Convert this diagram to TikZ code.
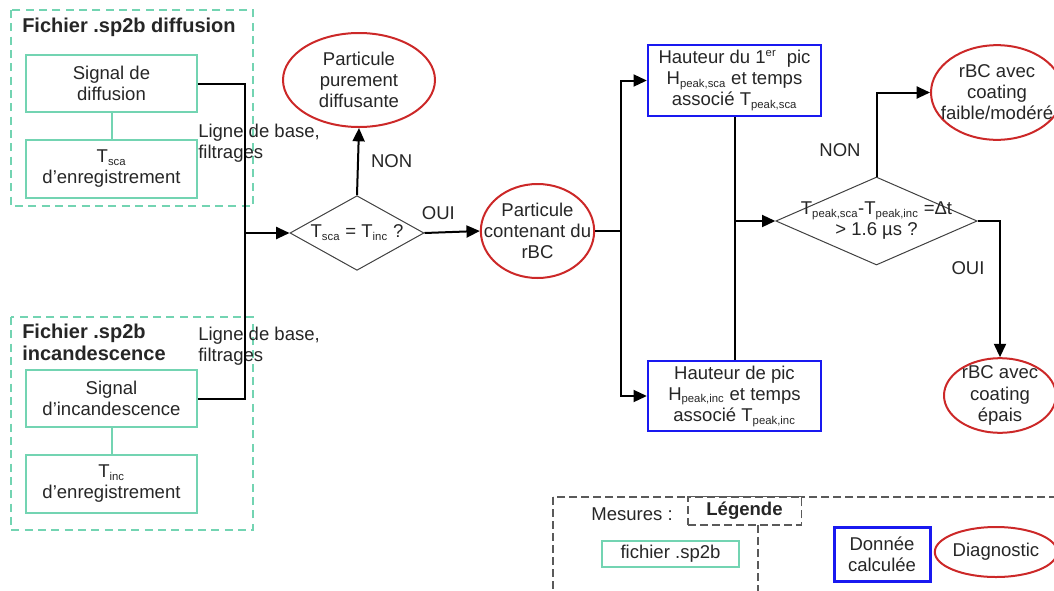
\documentclass[tikz,border=0pt]{standalone}
\usepackage{fontspec}
\setmainfont{Liberation Sans}
\usetikzlibrary{shapes.geometric, positioning, arrows.meta}
\definecolor{meascol}{RGB}{115,212,178}
\definecolor{diagcol}{RGB}{204,40,40}
\definecolor{calccol}{RGB}{25,25,240}
\definecolor{legcol}{RGB}{90,90,90}
\newcommand\lowtxt[1]{\textsubscript{\fontsize{8.5}{9}\selectfont #1}}
\newcommand\hightxt[1]{\textsuperscript{\fontsize{8.5}{9}\selectfont #1}}
\tikzset{
  >={Triangle[length=10pt, width=9pt]},
  every node/.style={font=\fontsize{13.9}{15.8}\selectfont, align=center, inner sep=0pt, text=black!85},
  title/.style={font=\fontsize{15}{16.5}\selectfont\bfseries, align=left},
  meas/.style={draw=meascol, line width=1.5pt, minimum width=128pt, minimum height=43pt},
  calc/.style={draw=calccol, line width=1.5pt, minimum width=130pt, minimum height=53pt},
  diag/.style={ellipse, draw=diagcol, line width=1.5pt},
  test/.style={diamond, draw=black!75, line width=0.75pt},
  filegroup/.style={draw=meascol, line width=1.5pt, dash pattern=on 6pt off 4pt},
  legbox/.style={draw=legcol, line width=1pt, dash pattern=on 6pt off 3pt},
  link/.style={line width=1.5pt},
}

\begin{document}
\begin{tikzpicture}[x=0.75pt, y=-0.75pt]
		\useasboundingbox (0,0) rectangle (1054,590);

		% files
		\draw[filegroup] (11,10) rectangle (253,206);
		\draw[filegroup] (11,317) rectangle (253,530);
		\node[title, anchor=west] (fd) at (22,27) {Fichier .sp2b diffusion};
		\node[title, anchor=north west] (fi) at (22,324) {Fichier .sp2b\\incandescence};

		\node[meas] (sd) at (111.5,83.5) {Signal de\\diffusion};
		\node[meas, below=19.5pt of sd] (st) {T\lowtxt{sca}\\d’enregistrement};
		\node[meas] (si) at (111.5,398.5) {Signal\\d’incandescence};
		\node[meas, below=19.5pt of si] (ti) {T\lowtxt{inc}\\d’enregistrement};

		\node[anchor=west, align=left] (lb1) at (198,143) {Ligne de base,\\filtrages};
		\node[anchor=west, align=left] (lb2) at (198,346) {Ligne de base,\\filtrages};

		% tests and results
		\node[test, minimum width=100.5pt, minimum height=56pt] (d1) at (357,233) {};
		\node at (d1) {T\lowtxt{sca} = T\lowtxt{inc} ?};
		\node[diag, minimum width=114pt, minimum height=70.5pt] (pd) at (359,80) {};
		\node at (pd) {Particule\\purement\\diffusante};
		\node[diag, minimum width=85pt, minimum height=70.5pt] (pc) at (537.5,231) {};
		\node at (pc) {Particule\\contenant du\\rBC};

		\node[calc] (h1) at (734.5,80.5) {Hauteur du 1\hightxt{er}\ \ pic\\H\lowtxt{peak,sca} et temps\\associé T\lowtxt{peak,sca}};
		\node[calc] (h2) at (734.5,396) {Hauteur de pic\\H\lowtxt{peak,inc} et temps\\associé T\lowtxt{peak,inc}};

		\node[test, minimum width=151pt, minimum height=66pt] (d2) at (876.5,221) {};
		\node at (d2) {T\lowtxt{peak,sca}-T\lowtxt{peak,inc} =Δt\\> 1.6 µs ?};
		\node[diag, minimum width=99pt, minimum height=71pt] (ef) at (997,92.5) {};
		\node at (ef) {rBC avec\\coating\\faible/modéré};
		\node[diag, minimum width=84pt, minimum height=56pt] (ee) at (1000,395.5) {};
		\node at (ee) {rBC avec\\coating\\épais};

		% links
		\coordinate (j1) at (245,233);
		\coordinate (j2) at (621,231);
		\draw[meascol, line width=1.5pt] (sd) -- (st) (si) -- (ti);
		\draw[link] (sd.east) -| (j1) (si.east) -| (j1);
		\draw[link, ->] (j1) -- (d1.west);
		\draw[link, ->] (d1.north) -- node[right=9pt, pos=0.5] {NON} (pd.south);
		\draw[link, ->] (d1.east) -- node[above=9pt, pos=0.25] {OUI} (pc.west);
		\draw[link] (pc.east) -- (j2);
		\draw[link, ->] (j2) |- (h1.west);
		\draw[link, ->] (j2) |- (h2.west);
		\draw[link, ->] (h1.south) |- (d2.west);
		\draw[link] (h2.north) -- (h1.south |- d2.west);
		\draw[link, ->] (d2.north) |- (ef.west);
		\draw[link, ->] (d2.east) -| (ee.north);
		\node (non2) at (840,150) {NON};
		\node (oui2) at (968,268) {OUI};

		% legend
		\draw[legbox] (553,497) rectangle (1075,605);
		\draw[legbox] (758,525) -- (758,605);
		\node[legbox, fill=white, minimum width=85pt, minimum height=21pt, font=\fontsize{13.9}{15.8}\selectfont\bfseries] (leg) at (744.5,511) {Légende};
		\node (mes) at (632,514) {Mesures :};
		\node[meas, minimum width=103pt, minimum height=19.5pt] (lm) at (670.5,554) {fichier .sp2b};
		\node[calc, line width=2.25pt, minimum width=72pt, minimum height=41pt] (lc) at (882,554.5) {Donnée\\calculée};
		\node[diag, minimum width=84pt, minimum height=37.5pt] (ld) at (996,552) {Diagnostic};

	\end{tikzpicture}
\end{document}
